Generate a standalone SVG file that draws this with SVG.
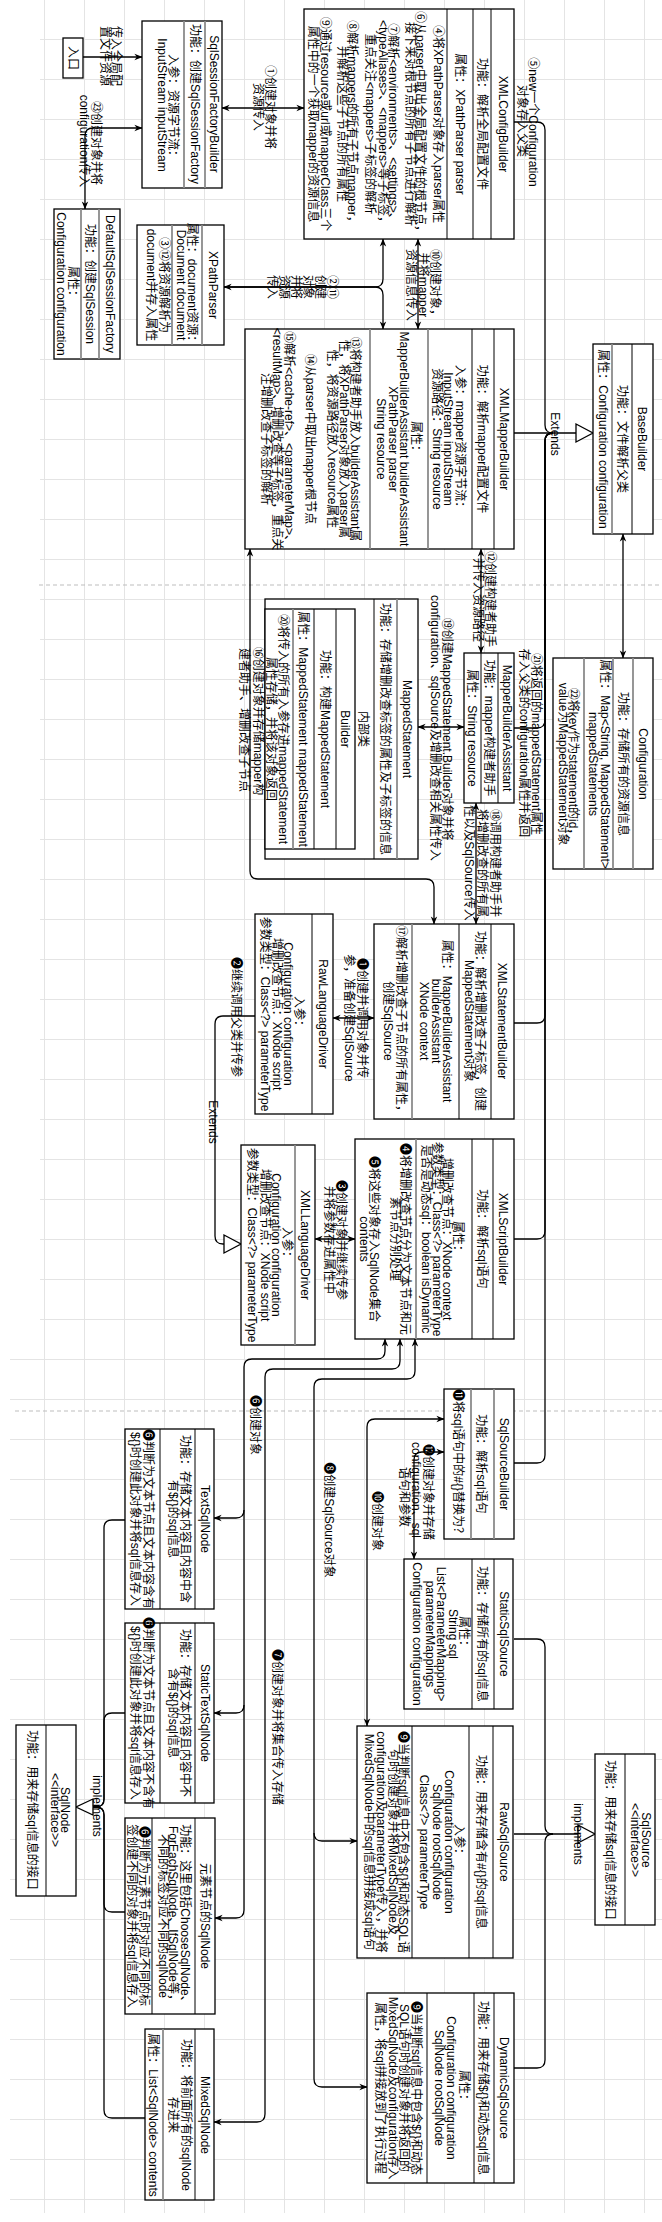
<svg xmlns="http://www.w3.org/2000/svg" width="662" height="2222" viewBox="0 0 662 2222">
<style>
.b{fill:#fff;stroke:#000;stroke-width:1.3}
.s{fill:none;stroke:#000;stroke-width:1}
.g{fill:none;stroke:#8c8c8c;stroke-width:1.8}
.e{fill:none;stroke:#000;stroke-width:1.3}
.t{fill:#fff;stroke:#000;stroke-width:1.3}
text{font-family:"Liberation Sans","Noto Sans CJK SC","DejaVu Sans",sans-serif;font-size:12px;text-anchor:middle;dominant-baseline:central;fill:#000}
</style>
<defs>
<pattern id="grid" width="40" height="40" patternUnits="userSpaceOnUse" x="4" y="-1">
<path d="M0 0.5H40M0.5 0V40" fill="none" stroke="#e4e4e4" stroke-width="1"/>
</pattern>
<marker id="a" viewBox="0 0 10 10" refX="9.5" refY="5" markerWidth="8" markerHeight="8" markerUnits="userSpaceOnUse" orient="auto-start-reverse">
<path d="M0,1 L10,5 L0,9 L3,5 Z" fill="#000"/>
</marker>
</defs>
<rect width="662" height="2222" fill="#fff"/>
<rect x="40" y="0" width="622" height="1337" fill="url(#grid)"/>
<rect x="10" y="1337" width="652" height="876" fill="url(#grid)"/>
<line x1="39" y1="585" x2="662" y2="585" stroke="#bdbdbd" stroke-dasharray="4 3"/>
<line x1="15" y1="1411" x2="662" y2="1411" stroke="#bdbdbd" stroke-dasharray="4 3"/>

<g id="connectors">
<path class="e" d="M83,57 H142" marker-end="url(#a)"/>
<path class="e" d="M222,108 H304" marker-start="url(#a)" marker-end="url(#a)"/>
<path class="e" d="M142,128 H93 Q85,128 85,136 V209" marker-start="url(#a)" marker-end="url(#a)"/>
<path class="e" d="M383,239 V279 Q383,287 375,287 H224" marker-start="url(#a)" marker-end="url(#a)"/>
<path class="e" d="M383,329 V295 Q383,287 375,287 H224" marker-start="url(#a)"/>
<path class="e" d="M418,239 V329" marker-start="url(#a)" marker-end="url(#a)"/>
<path class="e" d="M514,433 H578"/>
<polygon class="t" points="578,424 595,433 578,442" transform="translate(-2,0)"/>
<path class="e" d="M514,122 H537 Q545,122 545,130 V425 Q545,433 553,433"/>
<path class="e" d="M514,728 H537 Q545,728 545,720 V441 Q545,433 553,433"/>
<path class="e" d="M514,1023 H537 Q545,1023 545,1015 V441 Q545,433 553,433"/>
<path class="e" d="M514,1239 H537 Q545,1239 545,1231 V441 Q545,433 553,433"/>
<path class="e" d="M514,1463 H537 Q545,1463 545,1455 V441 Q545,433 553,433"/>
<path class="e" d="M623,534 V658" marker-start="url(#a)" marker-end="url(#a)"/>
<path class="e" d="M481,549 V653" marker-start="url(#a)" marker-end="url(#a)"/>
<path class="e" d="M464,727 H418" marker-start="url(#a)" marker-end="url(#a)"/>
<path class="e" d="M250,549 V871 Q250,879 258,879 H426 Q434,879 434,887 V924" marker-start="url(#a)" marker-end="url(#a)"/>
<path class="e" d="M476,803 V924" marker-start="url(#a)" marker-end="url(#a)"/>
<path class="e" d="M374,1018 H333" marker-start="url(#a)" marker-end="url(#a)"/>
<path class="e" d="M255,1016 H223 Q215,1016 215,1024 V1236 Q215,1244 223,1244 H224"/>
<polygon class="t" points="224,1235 241,1244 224,1253"/>
<path class="e" d="M315,1239 H355" marker-start="url(#a)" marker-end="url(#a)"/>
<path class="e" d="M385,1339 V1351 Q385,1359 377,1359 H252 Q244,1359 244,1367 V1510 Q244,1518 236,1518 H214" marker-start="url(#a)" marker-end="url(#a)"/>
<path class="e" d="M244,1510 V1705 Q244,1713 236,1713 H214" marker-end="url(#a)"/>
<path class="e" d="M244,1705 V1910 Q244,1918 236,1918 H215" marker-end="url(#a)"/>
<path class="e" d="M400,1339 V1361 Q400,1369 392,1369 H273 Q265,1369 265,1377 V2114 Q265,2122 257,2122 H214" marker-start="url(#a)" marker-end="url(#a)"/>
<path class="e" d="M415,1339 V1371 Q415,1379 407,1379 H322 Q314,1379 314,1387 V1833 Q314,1841 322,1841 H357" marker-start="url(#a)" marker-end="url(#a)"/>
<path class="e" d="M314,1833 V2079 Q314,2087 322,2087 H367" marker-end="url(#a)"/>
<path class="e" d="M367,1726 V1427 Q367,1419 375,1419 H444" marker-start="url(#a)" marker-end="url(#a)"/>
<path class="e" d="M444,1452 H422 Q414,1452 414,1460 V1559" marker-start="url(#a)" marker-end="url(#a)"/>
<path class="e" d="M514,1639 H537 Q545,1639 545,1647 V1826 Q545,1834 553,1834"/>
<path class="e" d="M514,1834 H578"/>
<polygon class="t" points="578,1825 595,1834 578,1843"/>
<path class="e" d="M514,2068 H537 Q545,2068 545,2060 V1842 Q545,1834 553,1834"/>
<path class="e" d="M125,1520 H112 Q104,1520 104,1528 V1799 Q104,1807 96,1807 H93"/>
<path class="e" d="M125,1713 H112 Q104,1713 104,1721 V1799 Q104,1807 96,1807 H93"/>
<path class="e" d="M125,1912 H112 Q104,1912 104,1904 V1815 Q104,1807 96,1807 H93"/>
<path class="e" d="M145,2118 H112 Q104,2118 104,2110 V1815 Q104,1807 96,1807 H93"/>
<polygon class="t" points="93,1799 76,1807 93,1815"/>

<text transform="translate(116 56) rotate(90)">传入全局配</text>
<text transform="translate(105 56) rotate(90)">置文件资源</text>
<text transform="translate(270 107) rotate(90)">①创建对象并将</text>
<text transform="translate(258 107) rotate(90)">资源传入</text>
<text transform="translate(96 143) rotate(90)">㉓创建对象并将</text>
<text transform="translate(84 141) rotate(90)">configuration传入</text>
<text transform="translate(332 287) rotate(90)">②⑪</text>
<text transform="translate(320 287) rotate(90)">创建</text>
<text transform="translate(308 287) rotate(90)">对象</text>
<text transform="translate(296 287) rotate(90)">并将</text>
<text transform="translate(284 287) rotate(90)">资源</text>
<text transform="translate(272 287) rotate(90)">传入</text>
<text transform="translate(435 285) rotate(90)">⑩创建对象，</text>
<text transform="translate(423 285) rotate(90)">并将mapper</text>
<text transform="translate(411 285) rotate(90)">资源信息传入</text>
<text transform="translate(555 434) rotate(90)">Extends</text>
<text transform="translate(533 122) rotate(90)">⑤new一个Configuration</text>
<text transform="translate(522 121) rotate(90)">对象存入父类</text>
<text transform="translate(536 744) rotate(90)">㉑将返回的mappedStatement属性</text>
<text transform="translate(524 743) rotate(90)">存入父类的configuration属性并返回</text>
<text transform="translate(490 599) rotate(90)">⑫创建构建者助手</text>
<text transform="translate(478 600) rotate(90)">并传入资源路径</text>
<text transform="translate(447 729) rotate(90)">⑲创建MappedStatement.Builder对象并将</text>
<text transform="translate(435 728) rotate(90)">configuration、sqlSource及增删改查相关属性传入</text>
<text transform="translate(258 721) rotate(90)">⑯创建对象并存储mapper构</text>
<text transform="translate(244 720) rotate(90)">建者助手、增删改查子节点</text>
<text transform="translate(495 863) rotate(90)">⑱调用构建者助手并</text>
<text transform="translate(482 863) rotate(90)">将增删改查的所有属</text>
<text transform="translate(469 863) rotate(90)">性以及SqlSource传入</text>
<text transform="translate(362 1018) rotate(90)">❶创建并调用对象并传</text>
<text transform="translate(349 1018) rotate(90)">参，准备创建SqlSource</text>
<text transform="translate(236 1017) rotate(90)">❷继续调用父类并传参</text>
<text transform="translate(213 1122) rotate(90)">Extends</text>
<text transform="translate(341 1240) rotate(90)">❸创建对象并继续传参</text>
<text transform="translate(329 1240) rotate(90)">并将参数存进属性中</text>
<text transform="translate(255 1425) rotate(90)">❻创建对象</text>
<text transform="translate(277 1727) rotate(90)">❼创建对象并将集合传入存储</text>
<text transform="translate(329 1520) rotate(90)">❽创建SqlSource对象</text>
<text transform="translate(377 1521) rotate(90)">❿创建对象</text>
<text transform="translate(428 1492) rotate(90)">⓬创建对象并存储</text>
<text transform="translate(416 1490) rotate(90)">configuration、sql</text>
<text transform="translate(404 1497) rotate(90)">语句和参数</text>
<text transform="translate(578 1834) rotate(90)">implements</text>
<text transform="translate(97 1806) rotate(90)">implements</text>
</g>

<g id="entry">
<rect class="b" x="63" y="38" width="20" height="40"/>
<text transform="translate(73 58) rotate(90)">入口</text>
</g>

<g id="SqlSessionFactoryBuilder">
<rect class="b" x="142" y="21" width="80" height="167"/>
<path class="g" d="M205 21V188M184 21V188"/>
<text transform="translate(214 104) rotate(90)">SqlSessionFactoryBuilder</text>
<text transform="translate(195 104) rotate(90)">功能：创建SqlSessionFactory</text>
<text transform="translate(173 108) rotate(90)">入参：资源字节流：</text>
<text transform="translate(162 105) rotate(90)">InputStream inputStream</text>
</g>

<g id="DefaultSqlSessionFactory">
<rect class="b" x="54" y="209" width="66" height="150"/>
<path class="g" d="M99 209V359M81 209V359"/>
<text transform="translate(110 284) rotate(90)">DefaultSqlSessionFactory</text>
<text transform="translate(90 284) rotate(90)">功能：创建SqlSession</text>
<text transform="translate(73 284) rotate(90)">属性：</text>
<text transform="translate(61 284) rotate(90)">Configuration configuration</text>
</g>

<g id="XMLConfigBuilder">
<rect class="b" x="304" y="9" width="210" height="230"/>
<path class="s" d="M491 9V239M473 9V239M447 9V239"/>
<text transform="translate(503 124) rotate(90)">XMLConfigBuilder</text>
<text transform="translate(482 124) rotate(90)">功能：解析全局配置文件</text>
<text transform="translate(460 124) rotate(90)">属性：XPathParser parser</text>
<text transform="translate(438 124) rotate(90)">④将XPathParser对象存入parser属性</text>
<text transform="translate(420 124) rotate(90)">⑥从parser中取出全局配置文件的根节点，</text>
<text transform="translate(410 124) rotate(90)">接下来对根节点的所有子节点进行解析</text>
<text transform="translate(393 124) rotate(90)">⑦解析&lt;environments&gt;、&lt;settings&gt;、</text>
<text transform="translate(383 124) rotate(90)">&lt;typeAliases&gt;、&lt;mappers&gt;等子标签，</text>
<text transform="translate(370 124) rotate(90)">重点关注&lt;mappers&gt;子标签的解析</text>
<text transform="translate(352 124) rotate(90)">⑧解析mappers的所有子节点mapper，</text>
<text transform="translate(342 124) rotate(90)">并解析这些子节点的所有属性</text>
<text transform="translate(325 124) rotate(90)">⑨通过resource或url或mapperClass三个</text>
<text transform="translate(313 124) rotate(90)">属性中的一个获取mapper的资源信息</text>
</g>

<g id="XPathParser">
<rect class="b" x="137" y="225" width="87" height="120"/>
<path class="g" d="M202 225V345M172 225V345"/>
<text transform="translate(213 285) rotate(90)">XPathParser</text>
<text transform="translate(192 285) rotate(90)">属性：document资源：</text>
<text transform="translate(181 285) rotate(90)">Document document</text>
<text transform="translate(164 285) rotate(90)">③⑫将资源解析为</text>
<text transform="translate(151 285) rotate(90)">document并存入属性</text>
</g>

<g id="XMLMapperBuilder">
<rect class="b" x="245" y="329" width="269" height="220"/>
<path class="s" d="M494 329V549M472 329V549"/>
<path class="g" d="M428 329V549M370 329V549"/>
<text transform="translate(504 439) rotate(90)">XMLMapperBuilder</text>
<text transform="translate(482 439) rotate(90)">功能：解析mapper配置文件</text>
<text transform="translate(460 439) rotate(90)">入参：mapper资源字节流：</text>
<text transform="translate(448 439) rotate(90)">InputStream inputStream</text>
<text transform="translate(437 439) rotate(90)">资源路径：String resource</text>
<text transform="translate(416 439) rotate(90)">属性：</text>
<text transform="translate(404 439) rotate(90)">MapperBuilderAssistant builderAssistant</text>
<text transform="translate(393 439) rotate(90)">XPathParser parser</text>
<text transform="translate(381 439) rotate(90)">String resource</text>
<text transform="translate(355 439) rotate(90)">⑬将构建者助手放入builderAssistant属</text>
<text transform="translate(344 439) rotate(90)">性，将XPathParser对象放入parser属</text>
<text transform="translate(332 439) rotate(90)">性，将资源路径放入resource属性</text>
<text transform="translate(310 439) rotate(90)">⑭从parser中取出mapper根节点</text>
<text transform="translate(289 439) rotate(90)">⑮解析&lt;cache-ref&gt;、&lt;parameterMap&gt;、</text>
<text transform="translate(277 439) rotate(90)">&lt;resultMap&gt;、增删改查等子标签，重点关</text>
<text transform="translate(266 439) rotate(90)">注增删改查子标签的解析</text>
</g>

<g id="BaseBuilder">
<rect class="b" x="593" y="344" width="60" height="190"/>
<path class="s" d="M632 344V534"/>
<path class="g" d="M612 344V534"/>
<text transform="translate(642 439) rotate(90)">BaseBuilder</text>
<text transform="translate(622 439) rotate(90)">功能：文件解析父类</text>
<text transform="translate(603 439) rotate(90)">属性：Configuration configuration</text>
</g>

<g id="Configuration">
<rect class="b" x="553" y="658" width="100" height="211"/>
<path class="g" d="M633 658V869M613 658V869M584 658V869"/>
<text transform="translate(643 764) rotate(90)">Configuration</text>
<text transform="translate(623 764) rotate(90)">功能：存储所有的资源信息</text>
<text transform="translate(605 764) rotate(90)">属性：Map&lt;String, MappedStatement&gt;</text>
<text transform="translate(593 764) rotate(90)">mappedStatements</text>
<text transform="translate(573 764) rotate(90)">㉒将key作为statement的id，</text>
<text transform="translate(563 764) rotate(90)">value为MappedStatement对象</text>
</g>

<g id="MapperBuilderAssistant">
<rect class="b" x="464" y="653" width="50" height="150"/>
<path class="s" d="M498 653V803M481 653V803"/>
<text transform="translate(507 728) rotate(90)">MapperBuilderAssistant</text>
<text transform="translate(489 728) rotate(90)">功能：mapper构建者助手</text>
<text transform="translate(472 728) rotate(90)">属性：String resource</text>
</g>

<g id="MappedStatement">
<rect class="b" x="265" y="599" width="153" height="260"/>
<path class="g" d="M397 599V859"/>
<path class="s" d="M374 599V859"/>
<text transform="translate(407 729) rotate(90)">MappedStatement</text>
<text transform="translate(385 729) rotate(90)">功能：存储增删改查标签的属性及子标签的信息</text>
<text transform="translate(363 729) rotate(90)">内部类</text>
</g>

<g id="Builder">
<rect class="b" x="265" y="609" width="90" height="240"/>
<path class="s" d="M336 609V849M314 609V849"/>
<path class="g" d="M293 609V849"/>
<text transform="translate(345 729) rotate(90)">Builder</text>
<text transform="translate(325 729) rotate(90)">功能：构建MappedStatement</text>
<text transform="translate(303 729) rotate(90)">属性：MappedStatement mappedStatement</text>
<text transform="translate(283 729) rotate(90)">⑳将传入的所有入参存进mappedStatement</text>
<text transform="translate(271 729) rotate(90)">属性存储，并将该对象返回</text>
</g>

<g id="XMLStatementBuilder">
<rect class="b" x="374" y="924" width="140" height="195"/>
<path class="s" d="M491 924V1119M459 924V1119"/>
<path class="g" d="M412 924V1119"/>
<text transform="translate(502 1021) rotate(90)">XMLStatementBuilder</text>
<text transform="translate(480 1021) rotate(90)">功能：解析增删改查子标签，创建</text>
<text transform="translate(469 1021) rotate(90)">MappedStatement对象</text>
<text transform="translate(447 1021) rotate(90)">属性：MapperBuilderAssistant</text>
<text transform="translate(436 1021) rotate(90)">builderAssistant</text>
<text transform="translate(424 1021) rotate(90)">XNode context</text>
<text transform="translate(401 1021) rotate(90)">⑰解析增删改查子节点的所有属性，</text>
<text transform="translate(388 1021) rotate(90)">创建SqlSource</text>
</g>

<g id="RawLanguageDriver">
<rect class="b" x="255" y="914" width="78" height="200"/>
<path class="s" d="M312 914V1114"/>
<text transform="translate(323 1014) rotate(90)">RawLanguageDriver</text>
<text transform="translate(299 1014) rotate(90)">入参：</text>
<text transform="translate(288 1014) rotate(90)">Configuration configuration</text>
<text transform="translate(277 1014) rotate(90)">增删改查节点：XNode script</text>
<text transform="translate(265 1014) rotate(90)">参数类型：Class&lt;?&gt; parameterType</text>
</g>

<g id="XMLLanguageDriver">
<rect class="b" x="241" y="1145" width="74" height="200"/>
<path class="g" d="M295 1145V1345"/>
<text transform="translate(305 1245) rotate(90)">XMLLanguageDriver</text>
<text transform="translate(287 1245) rotate(90)">入参：</text>
<text transform="translate(276 1245) rotate(90)">Configuration configuration</text>
<text transform="translate(265 1245) rotate(90)">增删改查节点：XNode script</text>
<text transform="translate(252 1245) rotate(90)">参数类型：Class&lt;?&gt; parameterType</text>
</g>

<g id="XMLScriptBuilder">
<rect class="b" x="355" y="1139" width="159" height="200"/>
<path class="s" d="M493 1139V1339M472 1139V1339"/>
<path class="g" d="M416 1139V1339"/>
<text transform="translate(503 1239) rotate(90)">XMLScriptBuilder</text>
<text transform="translate(482 1239) rotate(90)">功能：解析sql语句</text>
<text transform="translate(458 1239) rotate(90)">属性：</text>
<text transform="translate(447 1239) rotate(90)">增删改查节点：XNode context</text>
<text transform="translate(437 1239) rotate(90)">参数类型：Class&lt;?&gt; parameterType</text>
<text transform="translate(426 1239) rotate(90)">是否是动态sql：boolean isDynamic</text>
<text transform="translate(405 1239) rotate(90)">❹将增删改查节点分为文本节点和元</text>
<text transform="translate(395 1239) rotate(90)">素节点分别处理</text>
<text transform="translate(374 1239) rotate(90)">❺将这些对象存入SqlNode集合</text>
<text transform="translate(364 1239) rotate(90)">contents</text>
</g>

<g id="SqlSourceBuilder">
<rect class="b" x="444" y="1389" width="70" height="150"/>
<path class="g" d="M494 1389V1539M471 1389V1539"/>
<text transform="translate(504 1464) rotate(90)">SqlSourceBuilder</text>
<text transform="translate(481 1464) rotate(90)">功能：解析sql语句</text>
<text transform="translate(458 1464) rotate(90)">⓫将sql语句中的#{}替换为？</text>
</g>

<g id="StaticSqlSource">
<rect class="b" x="404" y="1559" width="109" height="150"/>
<path class="s" d="M494 1559V1709M472 1559V1709"/>
<text transform="translate(504 1634) rotate(90)">StaticSqlSource</text>
<text transform="translate(482 1634) rotate(90)">功能：存储所有的sql信息</text>
<text transform="translate(464 1634) rotate(90)">属性：</text>
<text transform="translate(453 1634) rotate(90)">String sql</text>
<text transform="translate(441 1634) rotate(90)">List&lt;ParameterMapping&gt;</text>
<text transform="translate(430 1634) rotate(90)">parameterMappings</text>
<text transform="translate(417 1634) rotate(90)">Configuration configuration</text>
</g>

<g id="RawSqlSource">
<rect class="b" x="357" y="1726" width="156" height="232"/>
<path class="s" d="M493 1726V1958M469 1726V1958M412 1726V1958"/>
<text transform="translate(504 1842) rotate(90)">RawSqlSource</text>
<text transform="translate(481 1842) rotate(90)">功能：用来存储含有#{}的sql信息</text>
<text transform="translate(459 1842) rotate(90)">入参：</text>
<text transform="translate(449 1842) rotate(90)">Configuration configuration</text>
<text transform="translate(437 1842) rotate(90)">SqlNode rootSqlNode</text>
<text transform="translate(424 1842) rotate(90)">Class&lt;?&gt; parameterType</text>
<text transform="translate(403 1842) rotate(90)">❾当判断sql信息中不包含${}和动态SQL语</text>
<text transform="translate(393 1842) rotate(90)">句时创建对象并将MixedSqlNode及</text>
<text transform="translate(381 1842) rotate(90)">configuration及parameterType传入，并将</text>
<text transform="translate(369 1842) rotate(90)">MixedSqlNode中的sql信息拼接成sql语句</text>
</g>

<g id="DynamicSqlSource">
<rect class="b" x="367" y="1993" width="147" height="190"/>
<path class="s" d="M494 1993V2183M474 1993V2183M427 1993V2183"/>
<text transform="translate(504 2088) rotate(90)">DynamicSqlSource</text>
<text transform="translate(483 2088) rotate(90)">功能：用来存储${}和动态sql信息</text>
<text transform="translate(464 2088) rotate(90)">属性：</text>
<text transform="translate(451 2088) rotate(90)">Configuration configuration</text>
<text transform="translate(439 2088) rotate(90)">SqlNode rootSqlNode</text>
<text transform="translate(416 2088) rotate(90)">❾当判断sql信息中包含${}和动态</text>
<text transform="translate(404 2088) rotate(90)">SQL语句时创建对象并将返回的</text>
<text transform="translate(393 2088) rotate(90)">MixedSqlNode及configuration存入</text>
<text transform="translate(380 2088) rotate(90)">属性，将sql拼接放到了执行过程</text>
</g>

<g id="SqlSource">
<rect class="b" x="595" y="1754" width="60" height="171"/>
<path class="s" d="M625 1754V1925"/>
<text transform="translate(646 1840) rotate(90)">SqlSource</text>
<text transform="translate(635 1840) rotate(90)">&lt;&lt;interface&gt;&gt;</text>
<text transform="translate(610 1840) rotate(90)">功能：用来存储sql信息的接口</text>
</g>

<g id="TextSqlNode">
<rect class="b" x="125" y="1429" width="89" height="180"/>
<path class="s" d="M195 1429V1609M160 1429V1609"/>
<text transform="translate(205 1519) rotate(90)">TextSqlNode</text>
<text transform="translate(185 1519) rotate(90)">功能：存储文本内容且内容中含</text>
<text transform="translate(173 1519) rotate(90)">有${}的sql信息</text>
<text transform="translate(148 1519) rotate(90)">❻判断为文本节点且文本内容含有</text>
<text transform="translate(135 1519) rotate(90)">${}时创建此对象并将sql信息存入</text>
</g>

<g id="StaticTextSqlNode">
<rect class="b" x="125" y="1623" width="89" height="180"/>
<path class="s" d="M195 1623V1803M160 1623V1803"/>
<text transform="translate(205 1713) rotate(90)">StaticTextSqlNode</text>
<text transform="translate(185 1713) rotate(90)">功能：存储文本内容且内容中不</text>
<text transform="translate(173 1713) rotate(90)">含有${}的sql信息</text>
<text transform="translate(148 1713) rotate(90)">❻判断为文本节点且文本内容不含有</text>
<text transform="translate(135 1713) rotate(90)">${}时创建此对象并将sql信息存入</text>
</g>

<g id="ElementSqlNode">
<rect class="b" x="125" y="1818" width="90" height="196"/>
<path class="s" d="M195 1818V2014M152 1818V2014"/>
<text transform="translate(205 1916) rotate(90)">元素节点的SqlNode</text>
<text transform="translate(185 1916) rotate(90)">功能：这里包括ChooseSqlNode、</text>
<text transform="translate(173 1916) rotate(90)">ForEachSqlNode、IfSqlNode等，</text>
<text transform="translate(163 1916) rotate(90)">不同的标签对应不同的sqlNode</text>
<text transform="translate(144 1916) rotate(90)">❻判断为元素节点时对应不同的标</text>
<text transform="translate(132 1916) rotate(90)">签创建不同的对象并将sql信息存入</text>
</g>

<g id="MixedSqlNode">
<rect class="b" x="145" y="2029" width="69" height="171"/>
<path class="s" d="M195 2029V2200"/>
<path class="g" d="M163 2029V2200"/>
<text transform="translate(205 2115) rotate(90)">MixedSqlNode</text>
<text transform="translate(186 2115) rotate(90)">功能：将前面所有的sqlNode</text>
<text transform="translate(173 2115) rotate(90)">存进来</text>
<text transform="translate(153 2115) rotate(90)">属性：List&lt;SqlNode&gt; contents</text>
</g>

<g id="SqlNode">
<rect class="b" x="16" y="1725" width="60" height="171"/>
<path class="s" d="M46 1725V1896"/>
<text transform="translate(65 1810) rotate(90)">SqlNode</text>
<text transform="translate(55 1810) rotate(90)">&lt;&lt;interface&gt;&gt;</text>
<text transform="translate(32 1810) rotate(90)">功能：用来存储sql信息的接口</text>
</g>
</svg>
